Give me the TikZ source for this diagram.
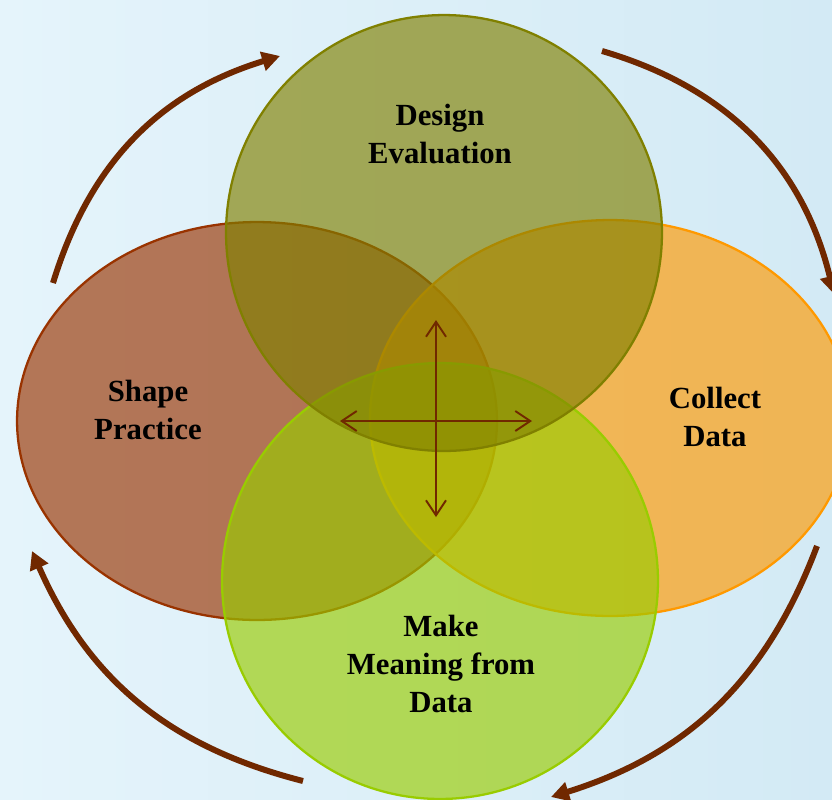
\documentclass[tikz,border=0pt]{standalone}
\usepackage{fontspec}
\setmainfont{Liberation Serif}
\usetikzlibrary{shapes.geometric,arrows.meta}
\definecolor{petalolive}{RGB}{128,128,0}
\definecolor{petalbrown}{RGB}{153,51,0}
\definecolor{petalorange}{RGB}{255,153,0}
\definecolor{petallime}{RGB}{153,204,0}
\definecolor{cyclebrown}{RGB}{112,40,0}
\definecolor{bgleft}{RGB}{229,244,251}
\definecolor{bgright}{RGB}{211,234,245}

\begin{document}
\begin{tikzpicture}[x=0.02cm,y=-0.02cm,
    petal/.style={ellipse,inner sep=0pt,line width=1.3pt,draw=#1,fill=#1,fill opacity=.65},
    stagetext/.style={font=\bfseries\fontsize{17.5}{21.5}\selectfont,align=center,text=black},
    cyclearrow/.style={cyclebrown,line width=3.4pt,-{Triangle[length=0.36cm,width=0.38cm]}},
    crossarrow/.style={cyclebrown,line width=1.1pt,{Straight Barb[length=0.3cm,width=0.4cm]}-{Straight Barb[length=0.3cm,width=0.4cm]}}]
      \useasboundingbox (0,0) rectangle (832,799);
      \clip (0,0) rectangle (832,799);
      \shade[left color=bgleft,right color=bgright] (0,0) rectangle (832,799);
      % the four petals
      \node[petal=petalbrown,minimum width=9.6cm,minimum height=7.96cm] (shape) at (257,421) {};
      \node[petal=petalorange,minimum width=9.6cm,minimum height=7.92cm] (collect) at (610,418) {};
      \node[petal=petallime,minimum width=8.72cm,minimum height=8.72cm] (meaning) at (440,581) {};
      \node[petal=petalolive,minimum width=8.72cm,minimum height=8.72cm] (design) at (444,233) {};
      \node[stagetext] (designtext) at (440,134) {Design\\Evaluation};
      \node[stagetext] (shapetext) at (148,410) {Shape\\Practice};
      \node[stagetext] (collecttext) at (715,417) {Collect\\Data};
      \node[stagetext] (meaningtext) at (441,664) {Make\\Meaning from\\Data};
      % cross in the middle
      \coordinate (hubN) at (436,320);
      \coordinate (hubS) at (436,517);
      \coordinate (hubW) at (340,421);
      \coordinate (hubE) at (532,421);
      \draw[crossarrow] (hubN) -- (hubS);
      \draw[crossarrow] (hubW) -- (hubE);
      % cycle arrows round the outside
      \coordinate (tlfrom) at (53,283);
      \coordinate (tlto) at (280,56);
      \coordinate (trfrom) at (602,51);
      \coordinate (trto) at (834,294);
      \coordinate (brfrom) at (817,546);
      \coordinate (brto) at (551,797);
      \coordinate (blfrom) at (303,781);
      \coordinate (blto) at (32,551);
      \draw[cyclearrow] (tlfrom) to[bend left=28] (tlto);
      \draw[cyclearrow] (trfrom) to[bend left=30] (trto);
      \draw[cyclearrow] (brfrom) to[bend left=26] (brto);
      \draw[cyclearrow] (blfrom) to[bend left=26] (blto);
    \end{tikzpicture}
\end{document}
